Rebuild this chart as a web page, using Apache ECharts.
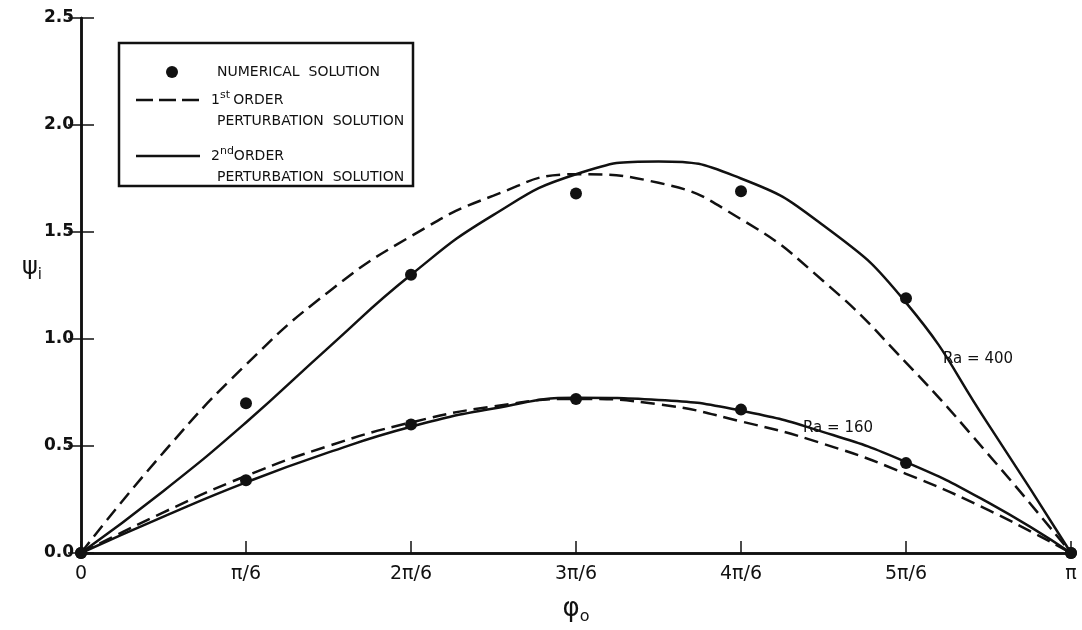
<!DOCTYPE html>
<html>
<head>
<meta charset="utf-8">
<script src="https://cdn.jsdelivr.net/npm/echarts@6/dist/echarts.min.js"></script>
<style>html,body{margin:0;padding:0;background:#fff}#c{width:1082px;height:630px}</style>
</head>
<body>
<div id="c"></div>
<script>
// x values are in units of pi/6
const xTickLabels = ['0', 'π/6', '2π/6', '3π/6', '4π/6', '5π/6', 'π'];
const numX = [0, 1, 2, 3, 4, 5, 6];
const numRa400 = [0, 0.70, 1.30, 1.68, 1.69, 1.19, 0];
const numRa160 = [0, 0.34, 0.60, 0.72, 0.67, 0.42, 0];

const curveX = [0, 0.5, 1, 1.5, 2, 2.5, 3, 3.5, 4, 4.5, 5, 5.5, 6];
const first400  = [0, 0.47, 0.88, 1.22, 1.48, 1.67, 1.77, 1.73, 1.56, 1.27, 0.89, 0.46, 0];
const second400 = [0, 0.29, 0.61, 0.96, 1.30, 1.58, 1.77, 1.83, 1.75, 1.53, 1.17, 0.60, 0];
const first160  = [0, 0.19, 0.36, 0.50, 0.61, 0.685, 0.72, 0.695, 0.615, 0.51, 0.37, 0.20, 0];
const second160 = [0, 0.17, 0.33, 0.47, 0.59, 0.675, 0.725, 0.715, 0.665, 0.565, 0.425, 0.235, 0];

const pairs = (xs, ys) => xs.map((x, i) => [x, ys[i]]);
const INK = '#111';
const FONT = 'DejaVu Sans';

const lineSeries = (ys, dashed) => ({
  type: 'line', data: pairs(curveX, ys), smooth: 0.5, showSymbol: false, silent: true,
  lineStyle: { color: INK, width: 2.5, type: dashed ? [14, 7] : 'solid' },
  z: 2
});

const chart = echarts.init(document.getElementById('c'), null, { renderer: 'canvas' });
chart.setOption({
  animation: false,
  backgroundColor: '#fff',
  grid: { left: 81, right: 11, top: 18, bottom: 65 },
  xAxis: [{
    type: 'value', min: 0, max: 6, interval: 1,
    axisLine: { lineStyle: { color: INK, width: 2.5 } },
    axisTick: { inside: true, length: 12, lineStyle: { color: INK, width: 1.5 } },
    splitLine: { show: false },
    axisLabel: { formatter: v => xTickLabels[Math.round(v)], color: INK, fontFamily: FONT, fontSize: 19, margin: 12 },
    name: '{a|φ}{b|o}', nameLocation: 'middle', nameGap: 40,
    nameTextStyle: { rich: { a: { fontFamily: FONT, fontSize: 26, color: INK }, b: { fontFamily: FONT, fontSize: 16, color: INK, padding: [16, 0, 0, 0] } } }
  }, {
    type: 'value', min: 0, max: 6, position: 'top',
    axisLine: { show: true, lineStyle: { color: INK, width: 2.5 } },
    axisTick: { show: false }, axisLabel: { show: false }, splitLine: { show: false }
  }],
  yAxis: [{
    type: 'value', min: 0, max: 2.5, interval: 0.5,
    axisLine: { show: true, lineStyle: { color: INK, width: 2.5 } },
    axisTick: { show: true, inside: true, length: 13, lineStyle: { color: INK, width: 1.5 } },
    splitLine: { show: false },
    axisLabel: { formatter: v => v.toFixed(1), color: INK, fontFamily: FONT, fontWeight: 'bold', fontSize: 17, margin: 7 }
  }, {
    type: 'value', min: 0, max: 2.5, interval: 0.5, position: 'right',
    axisLine: { show: true, lineStyle: { color: INK, width: 2.5 } },
    axisTick: { show: true, inside: true, length: 13, lineStyle: { color: INK, width: 1.5 } },
    axisLabel: { show: false }, splitLine: { show: false }
  }],
  series: [
    lineSeries(first400, true),
    lineSeries(second400, false),
    lineSeries(first160, true),
    lineSeries(second160, false),
    { type: 'scatter', data: pairs(numX, numRa400), symbolSize: 12, itemStyle: { color: INK, opacity: 1 }, z: 3 },
    { type: 'scatter', data: pairs(numX, numRa160), symbolSize: 12, itemStyle: { color: INK, opacity: 1 }, z: 3 }
  ],
  graphic: [
    { type: 'text', left: 22, top: 256, style: { text: '{a|ψ}{b|i}', rich: { a: { fontFamily: FONT, fontSize: 24, fill: INK }, b: { fontFamily: FONT, fontSize: 15, fill: INK, padding: [14, 0, 0, 0] } } } },
    { type: 'rect', shape: { x: 119, y: 43, width: 294, height: 143 }, style: { fill: '#fff', stroke: INK, lineWidth: 2.5 }, z: 10 },
    { type: 'circle', shape: { cx: 172, cy: 72, r: 6 }, style: { fill: INK }, z: 11 },
    { type: 'line', shape: { x1: 136, y1: 100, x2: 200, y2: 100 }, style: { stroke: INK, lineWidth: 2.5, lineDash: [17, 6] }, z: 11 },
    { type: 'line', shape: { x1: 136, y1: 156, x2: 200, y2: 156 }, style: { stroke: INK, lineWidth: 2.5 }, z: 11 },
    { type: 'text', x: 217, y: 72, z: 11, style: { text: 'NUMERICAL  SOLUTION', fontFamily: FONT, fontSize: 14, fill: INK, verticalAlign: 'middle' } },
    { type: 'text', x: 211, y: 100, z: 11, style: { text: '{n|1}{s|st} {n|ORDER}', verticalAlign: 'middle', rich: { n: { fontFamily: FONT, fontSize: 14, fill: INK }, s: { fontFamily: FONT, fontSize: 11, fill: INK, padding: [0, 0, 9, 0] } } } },
    { type: 'text', x: 217, y: 121, z: 11, style: { text: 'PERTURBATION  SOLUTION', fontFamily: FONT, fontSize: 14, fill: INK, verticalAlign: 'middle' } },
    { type: 'text', x: 211, y: 156, z: 11, style: { text: '{n|2}{s|nd}{n|ORDER}', verticalAlign: 'middle', rich: { n: { fontFamily: FONT, fontSize: 14, fill: INK }, s: { fontFamily: FONT, fontSize: 11, fill: INK, padding: [0, 0, 9, 0] } } } },
    { type: 'text', x: 217, y: 177, z: 11, style: { text: 'PERTURBATION  SOLUTION', fontFamily: FONT, fontSize: 14, fill: INK, verticalAlign: 'middle' } },
    { type: 'text', x: 978, y: 359, style: { text: 'Ra = 400', fontFamily: FONT, fontSize: 15, fill: INK, align: 'center', verticalAlign: 'middle' } },
    { type: 'text', x: 838, y: 428, style: { text: 'Ra = 160', fontFamily: FONT, fontSize: 15, fill: INK, align: 'center', verticalAlign: 'middle' } }
  ]
});
</script>
</body>
</html>
